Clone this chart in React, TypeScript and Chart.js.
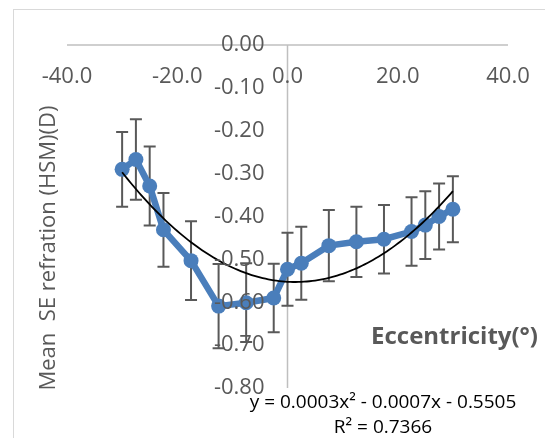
import React, { useEffect, useRef } from "react";
import { Chart, registerables } from "chart.js";

Chart.register(...registerables);

const eccentricity = [-30, -27.5, -25, -22.5, -17.5, -12.5, -7.5, -2.5, 0, 2.5, 7.5, 12.5, 17.5, 22.5, 25, 27.5, 30];
const meanSE = [-0.29, -0.267, -0.329, -0.431, -0.503, -0.609, -0.601, -0.59, -0.523, -0.509, -0.468, -0.459, -0.453, -0.435, -0.42, -0.4, -0.383];
const errSE = [0.087, 0.094, 0.092, 0.086, 0.092, 0.098, 0.092, 0.08, 0.085, 0.085, 0.083, 0.082, 0.08, 0.08, 0.079, 0.077, 0.077];
const xTicks = [-40, -20, 0, 20, 40];
const yTicks = [0, -0.1, -0.2, -0.3, -0.4, -0.5, -0.6, -0.7, -0.8];
const xTitle = "Eccentricity(°)";
const yTitle = "Mean  SE refration (HSM)(D)";
const equationText = "y = 0.0003x² - 0.0007x - 0.5505";
const r2Text = "R² = 0.7366";

function polyFit2(xs: number[], ys: number[]): number[] {
  const S = [0, 0, 0, 0, 0];
  const T = [0, 0, 0];
  for (let i = 0; i < xs.length; i++) {
    const x = xs[i], y = ys[i];
    let p = 1;
    for (let k = 0; k < 5; k++) { S[k] += p; p *= x; }
    T[0] += y; T[1] += x * y; T[2] += x * x * y;
  }
  const M = [
    [S[0], S[1], S[2], T[0]],
    [S[1], S[2], S[3], T[1]],
    [S[2], S[3], S[4], T[2]],
  ];
  for (let i = 0; i < 3; i++) {
    let piv = i;
    for (let r = i + 1; r < 3; r++) if (Math.abs(M[r][i]) > Math.abs(M[piv][i])) piv = r;
    [M[i], M[piv]] = [M[piv], M[i]];
    for (let r = 0; r < 3; r++) {
      if (r === i) continue;
      const f = M[r][i] / M[i][i];
      for (let c = i; c < 4; c++) M[r][c] -= f * M[i][c];
    }
  }
  const c = M[0][3] / M[0][0];
  const b = M[1][3] / M[1][1];
  const a = M[2][3] / M[2][2];
  return [a, b, c];
}

const FONT = "'Open Sans', 'Noto Sans', sans-serif";
const GRAY = "#595959";

const overlay = {
  id: "overlay",
  beforeDraw(chart: any) {
    const ctx = chart.ctx;
    ctx.save();
    ctx.fillStyle = "#ffffff";
    ctx.fillRect(0, 0, chart.width, chart.height);
    ctx.strokeStyle = "#d9d9d9";
    ctx.lineWidth = 1;
    ctx.strokeRect(13.5, 9.5, 600, 500);
    ctx.restore();
  },
  beforeDatasetsDraw(chart: any) {
    const ctx = chart.ctx;
    const xs = chart.scales.x;
    const ys = chart.scales.y;
    ctx.save();
    ctx.strokeStyle = "#bfbfbf";
    ctx.lineWidth = 1.5;
    const y0 = ys.getPixelForValue(0);
    const x0 = xs.getPixelForValue(0);
    ctx.beginPath();
    ctx.moveTo(xs.getPixelForValue(-40), y0);
    ctx.lineTo(xs.getPixelForValue(40), y0);
    ctx.stroke();
    ctx.beginPath();
    ctx.moveTo(x0, ys.getPixelForValue(0));
    ctx.lineTo(x0, ys.getPixelForValue(-0.8));
    ctx.stroke();
    ctx.strokeStyle = "#595959";
    ctx.lineWidth = 2;
    for (let i = 0; i < eccentricity.length; i++) {
      const px = xs.getPixelForValue(eccentricity[i]);
      const top = ys.getPixelForValue(meanSE[i] + errSE[i]);
      const bot = ys.getPixelForValue(meanSE[i] - errSE[i]);
      ctx.beginPath();
      ctx.moveTo(px, top);
      ctx.lineTo(px, bot);
      ctx.moveTo(px - 6, top);
      ctx.lineTo(px + 6, top);
      ctx.moveTo(px - 6, bot);
      ctx.lineTo(px + 6, bot);
      ctx.stroke();
    }
    ctx.restore();
  },
  afterDatasetsDraw(chart: any) {
    const ctx = chart.ctx;
    const xs = chart.scales.x;
    const ys = chart.scales.y;
    ctx.save();
    const [a, b, c] = polyFit2(eccentricity, meanSE);
    const xMin = Math.min(...eccentricity);
    const xMax = Math.max(...eccentricity);
    ctx.strokeStyle = "#000000";
    ctx.lineWidth = 1.8;
    ctx.beginPath();
    const steps = 120;
    for (let s = 0; s <= steps; s++) {
      const x = xMin + ((xMax - xMin) * s) / steps;
      const y = a * x * x + b * x + c;
      const px = xs.getPixelForValue(x);
      const py = ys.getPixelForValue(y);
      if (s === 0) ctx.moveTo(px, py);
      else ctx.lineTo(px, py);
    }
    ctx.stroke();

    const y0 = ys.getPixelForValue(0);
    const x0 = xs.getPixelForValue(0);
    ctx.fillStyle = GRAY;
    ctx.font = `22px ${FONT}`;
    ctx.textAlign = "center";
    ctx.textBaseline = "middle";
    for (const t of xTicks) {
      ctx.fillText(t.toFixed(1), xs.getPixelForValue(t), y0 + 32);
    }
    ctx.textAlign = "right";
    for (const t of yTicks) {
      ctx.fillText(t.toFixed(2), x0 - 23, ys.getPixelForValue(t));
    }

    ctx.font = `bold 24px ${FONT}`;
    ctx.textAlign = "right";
    ctx.fillText(xTitle, 538, 337);

    ctx.save();
    ctx.translate(49, 248);
    ctx.rotate(-Math.PI / 2);
    ctx.font = `22px ${FONT}`;
    ctx.textAlign = "center";
    ctx.fillText(yTitle, 0, 0);
    ctx.restore();

    ctx.fillStyle = "#000000";
    ctx.font = `19px ${FONT}`;
    ctx.textAlign = "center";
    ctx.fillText(equationText, 383, 403);
    ctx.fillText(r2Text, 383, 428);
    ctx.restore();
  },
};

export default function App() {
  const ref = useRef<HTMLCanvasElement | null>(null);
  useEffect(() => {
    if (!ref.current) return;
    const chart = new Chart(ref.current, {
      type: "scatter",
      data: {
        datasets: [
          {
            label: "Mean SE",
            data: eccentricity.map((x, i) => ({ x, y: meanSE[i] })),
            showLine: true,
            borderColor: "#4a7ebb",
            backgroundColor: "#4a7ebb",
            borderWidth: 6.5,
            pointRadius: 7.5,
            pointBackgroundColor: "#4a7ebb",
            pointBorderColor: "#4a7ebb",
            pointBorderWidth: 0,
            tension: 0,
          },
        ],
      },
      options: {
        responsive: false,
        animation: false,
        layout: { padding: { left: 67, right: 37, top: 45, bottom: 50 } },
        plugins: { legend: { display: false }, tooltip: { enabled: false }, title: { display: false } },
        scales: {
          x: { type: "linear", min: -40, max: 40, display: false },
          y: { type: "linear", min: -0.8, max: 0, display: false },
        },
      },
      plugins: [overlay],
    });
    return () => chart.destroy();
  }, []);
  return (
    <div style={{ position: "absolute", left: 0, top: 0, width: 545, height: 438 }}>
      <canvas ref={ref} width={545} height={438} style={{ width: 545, height: 438, display: "block" }} />
    </div>
  );
}
